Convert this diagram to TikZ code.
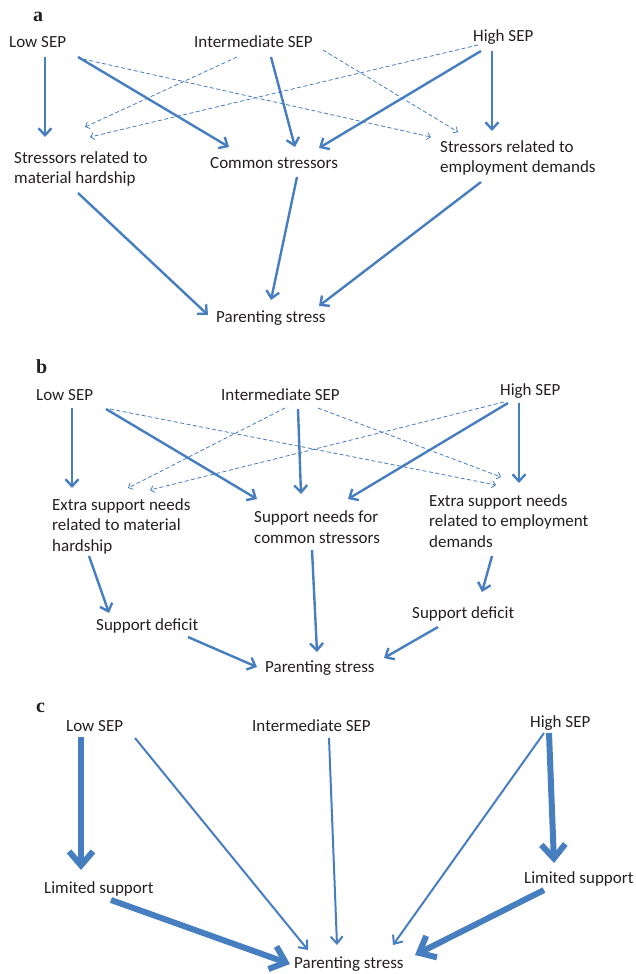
\documentclass[tikz,border=0pt]{standalone}
\usepackage{fontspec}
\setmainfont{Carlito}
\newfontfamily\labfont{Liberation Serif}
\usetikzlibrary{arrows.meta}
\definecolor{arr}{RGB}{70,126,192}
\definecolor{txt}{RGB}{35,31,32}
\begin{document}
\begin{tikzpicture}[x=1pt,y=-1pt,
 lbl/.style={inner sep=0pt, anchor=base west, text=txt, font=\fontsize{17}{20.5}\selectfont},
 mlbl/.style={lbl, anchor=west, align=left},
 plab/.style={inner sep=0pt, anchor=base west, text=txt, font=\labfont\bfseries\fontsize{20}{24}\selectfont},
 solidarr/.style={draw=arr, line width=2.4pt, -{Straight Barb[length=7pt,width=13pt]}},
 dasharr/.style={draw=arr, line width=0.8pt, dash pattern=on 4pt off 2.5pt, -{Straight Barb[length=3.5pt,width=7pt]}},
 thinarr/.style={draw=arr, line width=2pt, -{Straight Barb[length=7pt,width=12pt]}},
 thickarr/.style={draw=arr, line width=6pt, -{Straight Barb[length=14pt,width=24pt]}},
]
\useasboundingbox (0,0) rectangle (636,974);

% ---------------- panel a ----------------
\node[plab] (pla) at (33,22) {a};
\node[lbl] (la) at (9,48) {Low SEP};
\node[lbl] (ia) at (194,48) {Intermediate SEP};
\node[lbl] (ha) at (473,42) {High SEP};
\node[mlbl] (sa1) at (14,169) {Stressors related to\\material hardship};
\node[lbl] (ca) at (210,168) {Common stressors};
\node[mlbl] (sa2) at (440,158) {Stressors related to\\employment demands};
\node[lbl] (pa) at (216,322) {Parenting stress};

\draw[solidarr] ([shift={(36,9)}]la.base west) -- ([shift={(31,-32)}]sa1.west);
\draw[solidarr] ([shift={(69,9)}]la.base west) -- ([shift={(19,-21)}]ca.base west);
\draw[solidarr] ([shift={(77,9)}]ia.base west) -- ([shift={(85,-21)}]ca.base west);
\draw[solidarr] ([shift={(8,9)}]ha.base west) -- ([shift={(109,-20)}]ca.base west);
\draw[solidarr] ([shift={(19,9)}]ha.base west) -- ([shift={(52,-27)}]sa2.west);
\draw[solidarr] ([shift={(64,24)}]sa1.west) -- ([shift={(-8,-7)}]pa.base west);
\draw[solidarr] ([shift={(87,9)}]ca.base west) -- ([shift={(55,-22)}]pa.base west);
\draw[solidarr] ([shift={(41,24)}]sa2.west) -- ([shift={(103,-16)}]pa.base west);

\draw[dasharr] ([shift={(74,11)}]la.base west) -- ([shift={(-9,-21)}]sa2.west);
\draw[dasharr] ([shift={(43,9)}]ia.base west) -- ([shift={(71,-42)}]sa1.west);
\draw[dasharr] ([shift={(129,2)}]ia.base west) -- ([shift={(18,-26)}]sa2.west);
\draw[dasharr] ([shift={(5,3)}]ha.base west) -- ([shift={(76,-32)}]sa1.west);

% ---------------- panel b ----------------
\node[plab] (plb) at (36,373) {b};
\node[lbl] (lb) at (36,400) {Low SEP};
\node[lbl] (ib) at (221,400) {Intermediate SEP};
\node[lbl] (hb) at (500,395) {High SEP};
\node[mlbl] (eb1) at (52,526) {Extra support needs\\related to material\\hardship};
\node[mlbl] (cb) at (254,527) {Support needs for\\common stressors};
\node[mlbl] (eb2) at (429,521) {Extra support needs\\related to employment\\demands};
\node[lbl] (sdl) at (96,630) {Support deficit};
\node[lbl] (sdr) at (412,618) {Support deficit};
\node[lbl] (pb) at (265,672) {Parenting stress};

\draw[solidarr] ([shift={(36,8)}]lb.base west) -- ([shift={(20,-38)}]eb1.west);
\draw[solidarr] ([shift={(70,9)}]lb.base west) -- ([shift={(3,-28)}]cb.west);
\draw[solidarr] ([shift={(77,9)}]ib.base west) -- ([shift={(47,-33)}]cb.west);
\draw[solidarr] ([shift={(8,8)}]hb.base west) -- ([shift={(94,-28)}]cb.west);
\draw[solidarr] ([shift={(19,8)}]hb.base west) -- ([shift={(90,-38)}]eb2.west);
\draw[solidarr] ([shift={(37,30)}]eb1.west) -- ([shift={(13,-17)}]sdl.base west);
\draw[solidarr] ([shift={(58,23)}]cb.west) -- ([shift={(52,-20)}]pb.base west);
\draw[solidarr] ([shift={(63,35)}]eb2.west) -- ([shift={(70,-26)}]sdr.base west);
\draw[solidarr] ([shift={(92,7)}]sdl.base west) -- ([shift={(-8,-5)}]pb.base west);
\draw[solidarr] ([shift={(26,9)}]sdr.base west) -- ([shift={(119,-14)}]pb.base west);

\draw[dasharr] ([shift={(74,9)}]lb.base west) -- ([shift={(67,-36)}]eb2.west);
\draw[dasharr] ([shift={(64,8)}]ib.base west) -- ([shift={(76,-38)}]eb1.west);
\draw[dasharr] ([shift={(97,8)}]ib.base west) -- ([shift={(72,-44)}]eb2.west);
\draw[dasharr] ([shift={(4,7)}]hb.base west) -- ([shift={(98,-36)}]eb1.west);

% ---------------- panel c ----------------
\node[plab] (plc) at (36,712) {c};
\node[lbl] (lc) at (66,731) {Low SEP};
\node[lbl] (ic) at (252,731) {Intermediate SEP};
\node[lbl] (hc) at (530,727) {High SEP};
\node[lbl] (lsl) at (44,893) {Limited support};
\node[lbl] (lsr) at (524,883) {Limited support};
\node[lbl] (pc) at (294,968) {Parenting stress};

\draw[thickarr] ([shift={(15,6)}]lc.base west) -- ([shift={(37,-23)}]lsl.base west);
\draw[thinarr] ([shift={(69,7)}]lc.base west) -- ([shift={(14,-18)}]pc.base west);
\draw[thickarr] ([shift={(67,7)}]lsl.base west) -- ([shift={(-4,-4)}]pc.base west);
\draw[thinarr] ([shift={(77,7)}]ic.base west) -- ([shift={(43,-23)}]pc.base west);
\draw[thinarr] ([shift={(14,6)}]hc.base west) -- ([shift={(99,-23)}]pc.base west);
\draw[thickarr] ([shift={(19,6)}]hc.base west) -- ([shift={(30,-20)}]lsr.base west);
\draw[thickarr] ([shift={(20,7)}]lsr.base west) -- ([shift={(121,-13)}]pc.base west);
\end{tikzpicture}
\end{document}
